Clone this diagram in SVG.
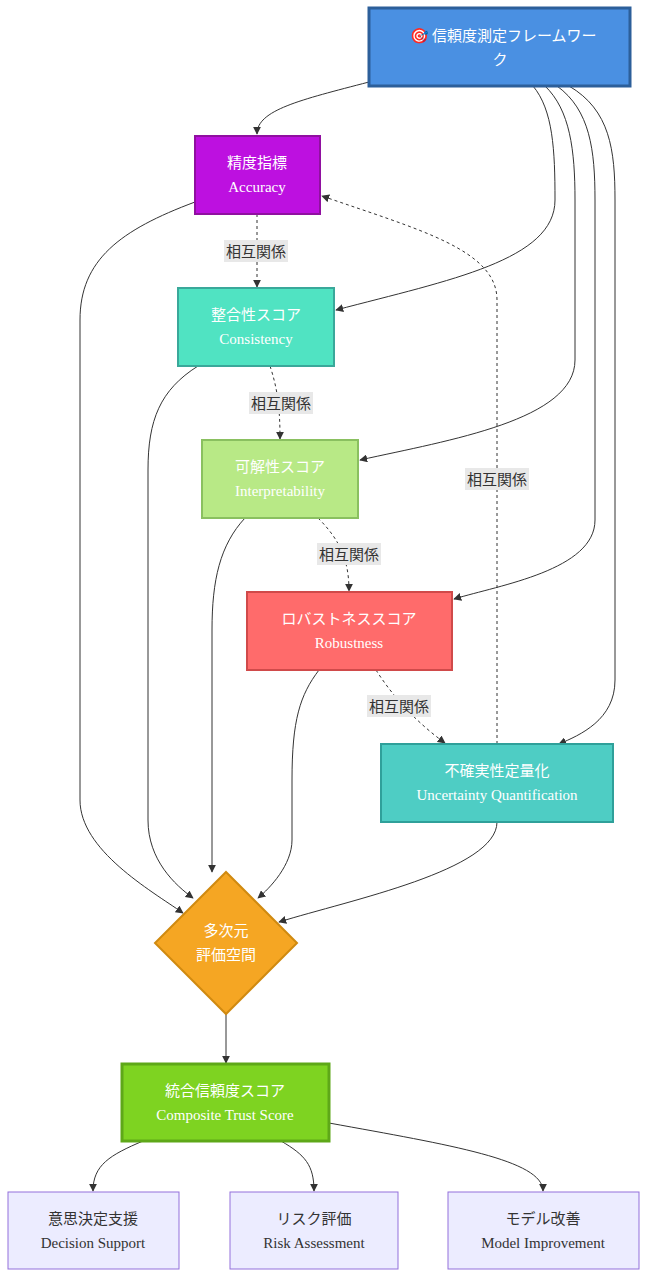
<svg xmlns="http://www.w3.org/2000/svg" width="648" height="1278" viewBox="0 0 648 1278">
<defs>
<marker id="ah" viewBox="0 0 10 10" refX="9" refY="5" markerWidth="8" markerHeight="8" orient="auto-start-reverse"><path d="M0,0 L10,5 L0,10 z" fill="#333"/></marker>
<style>
.e{fill:none;stroke:#333;stroke-width:1;marker-end:url(#ah)}
.d{stroke-dasharray:3,3}
.j{font-family:"Noto Sans CJK JP","Noto Sans",sans-serif;font-size:15px;text-anchor:middle}
.s{font-family:"Liberation Serif",serif;font-size:15px;text-anchor:middle}
.w{fill:#fff}
.k{fill:#333}
.lb{fill:#e8e8e8}
.bt{fill:#ececff;stroke:#9370db;stroke-width:1}
</style>
</defs>
<g id="edges">
<path class="e" d="M369,82 C300,100 257,110 257,134"/>
<path class="e" d="M533,86 C553,110 555,150 555,200 C555,260 450,280 336,310"/>
<path class="e" d="M545,86 C570,110 575,150 575,200 L575,360 C575,420 450,440 360,460"/>
<path class="e" d="M557,86 C590,110 595,150 595,200 L595,520 C595,570 500,585 454,599"/>
<path class="e" d="M569,86 C610,110 615,150 615,200 L615,680 C615,720 580,735 559,744"/>
<path class="e d" d="M257,214 L257,287"/>
<path class="e d" d="M270,366 C278,390 280,410 280,439"/>
<path class="e d" d="M318,518 C340,540 349,560 349,591"/>
<path class="e d" d="M376,670 C395,700 420,725 445,743"/>
<path class="e d" d="M497,744 L497,300 C497,250 420,230 322,196"/>
<path class="e" d="M195,202 C120,230 80,260 80,320 L80,800 C80,850 150,890 183,913"/>
<path class="e" d="M198,366 C160,390 148,420 148,470 L148,820 C148,860 175,885 193,898"/>
<path class="e" d="M245,518 C220,545 212,580 212,630 L212,872"/>
<path class="e" d="M319,670 C300,695 292,720 292,780 L292,840 C292,865 270,888 258,898"/>
<path class="e" d="M497,822 C497,870 350,900 279,922"/>
<path class="e" d="M226,1014 L226,1063"/>
<path class="e" d="M143,1141 C110,1155 93,1165 93,1191"/>
<path class="e" d="M281,1141 C305,1155 314,1165 314,1191"/>
<path class="e" d="M329,1123 C450,1145 543,1160 543,1191"/>
</g>
<g id="edge-labels">
<rect class="lb" x="224" y="240" width="64" height="22"/><text class="j k" x="256" y="257">相互関係</text>
<rect class="lb" x="249" y="392" width="64" height="22"/><text class="j k" x="281" y="409">相互関係</text>
<rect class="lb" x="317" y="543" width="64" height="22"/><text class="j k" x="349" y="560">相互関係</text>
<rect class="lb" x="367" y="695" width="64" height="22"/><text class="j k" x="399" y="712">相互関係</text>
<rect class="lb" x="465" y="468" width="64" height="22"/><text class="j k" x="497" y="485">相互関係</text>
</g>
<g id="root"><rect x="369" y="8" width="261" height="78" fill="#4a90e2" stroke="#2c5f9a" stroke-width="3"/>
<text class="j w" x="503" y="41">🎯 信頼度測定フレームワー</text><text class="j w" x="500" y="65">ク</text></g>
<g id="accuracy"><rect x="195" y="136" width="125" height="78" fill="#bd10e0" stroke="#9010a0" stroke-width="2"/>
<text class="j w" x="257" y="168">精度指標</text><text class="s w" x="257" y="192">Accuracy</text></g>
<g id="consistency"><rect x="178" y="288" width="156" height="78" fill="#50e3c2" stroke="#3aa89a" stroke-width="2"/>
<text class="j w" x="256" y="320">整合性スコア</text><text class="s w" x="256" y="344">Consistency</text></g>
<g id="interp"><rect x="202" y="440" width="156" height="78" fill="#b8e986" stroke="#8ac060" stroke-width="2"/>
<text class="j w" x="280" y="472">可解性スコア</text><text class="s w" x="280" y="496">Interpretability</text></g>
<g id="robust"><rect x="247" y="592" width="205" height="78" fill="#ff6b6b" stroke="#d04a4a" stroke-width="2"/>
<text class="j w" x="349" y="624">ロバストネススコア</text><text class="s w" x="349" y="648">Robustness</text></g>
<g id="uncert"><rect x="381" y="744" width="232" height="78" fill="#4ecdc4" stroke="#2fa09a" stroke-width="2"/>
<text class="j w" x="497" y="776">不確実性定量化</text><text class="s w" x="497" y="800">Uncertainty Quantification</text></g>
<g id="space"><polygon points="226,872 297,943 226,1014 155,943" fill="#f5a623" stroke="#d08a10" stroke-width="2"/>
<text class="j w" x="226" y="936">多次元</text><text class="j w" x="226" y="960">評価空間</text></g>
<g id="composite"><rect x="122" y="1064" width="207" height="77" fill="#7ed321" stroke="#5ea818" stroke-width="3"/>
<text class="j w" x="225" y="1096">統合信頼度スコア</text><text class="s w" x="225" y="1120">Composite Trust Score</text></g>
<g id="decision"><rect class="bt" x="8" y="1192" width="171" height="77"/>
<text class="j k" x="93" y="1224">意思決定支援</text><text class="s k" x="93" y="1248">Decision Support</text></g>
<g id="risk"><rect class="bt" x="230" y="1192" width="168" height="77"/>
<text class="j k" x="314" y="1224">リスク評価</text><text class="s k" x="314" y="1248">Risk Assessment</text></g>
<g id="model"><rect class="bt" x="448" y="1192" width="191" height="77"/>
<text class="j k" x="543" y="1224">モデル改善</text><text class="s k" x="543" y="1248">Model Improvement</text></g>
</svg>
